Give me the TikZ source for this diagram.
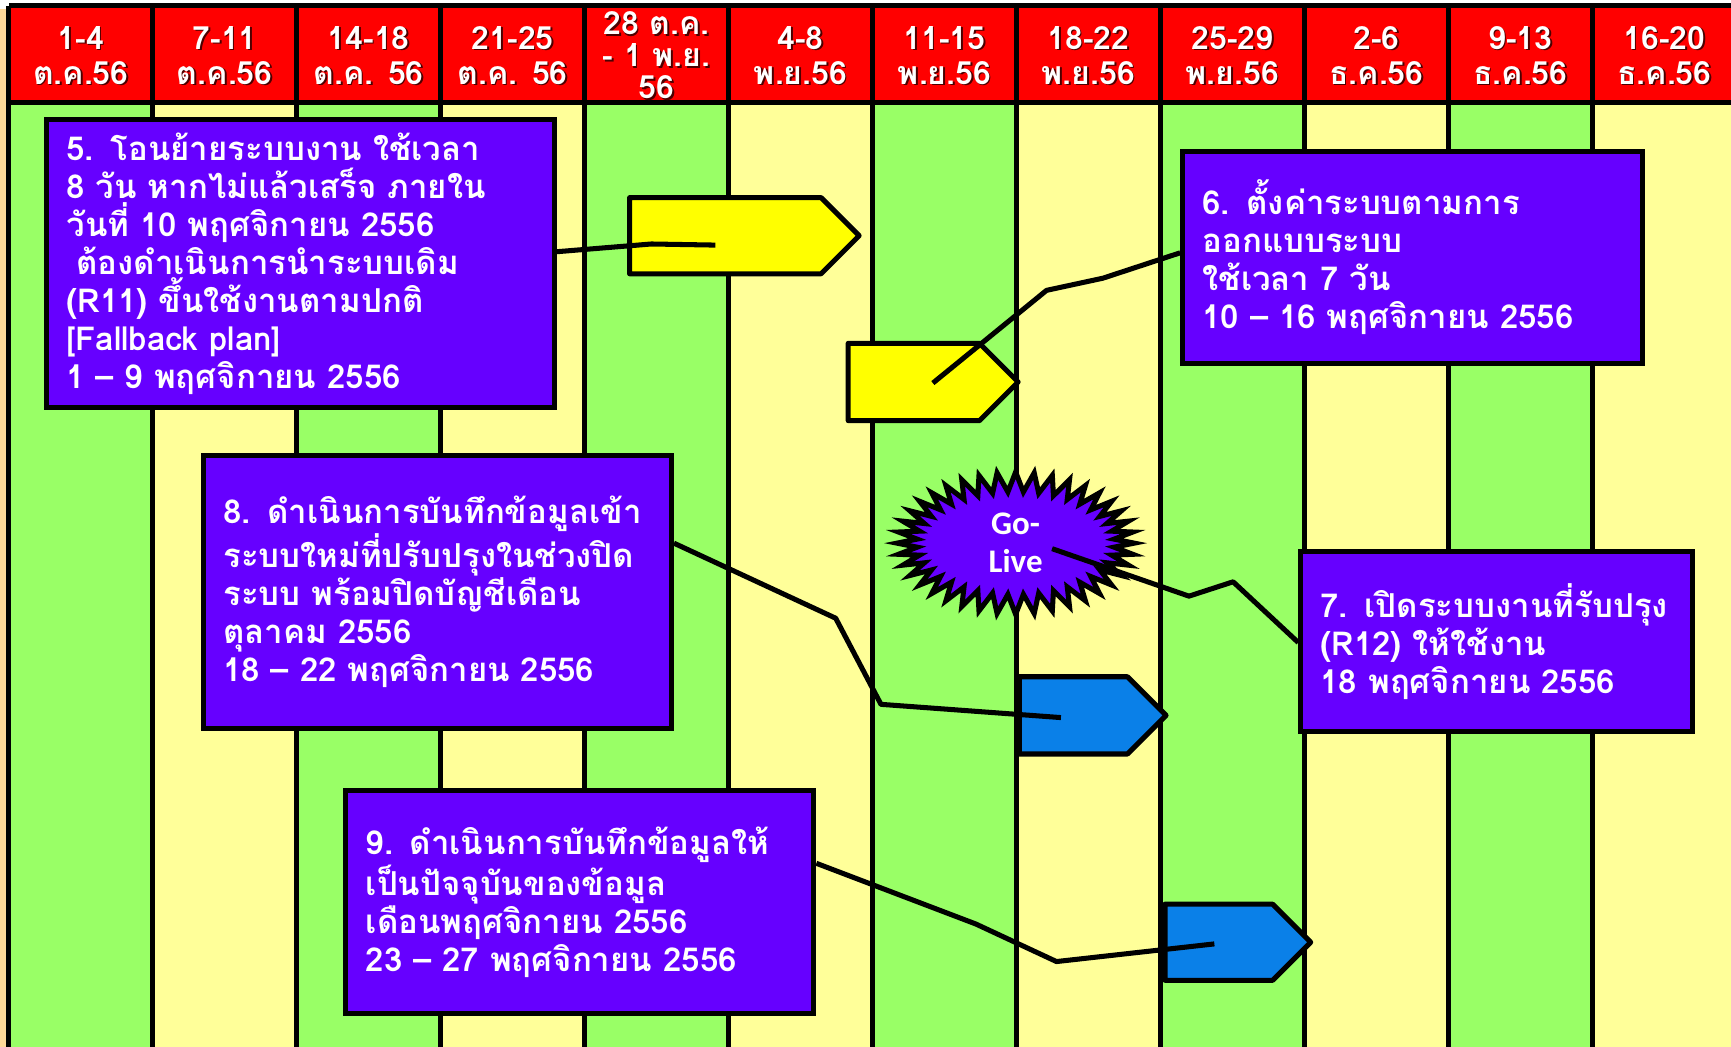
\documentclass[tikz,border=0pt]{standalone}
\usepackage{fontspec}
\newfontfamily\thaifont[Script=Thai]{Loma}
\newfontfamily\golivefont{Carlito}
\usetikzlibrary{shapes.symbols}
\definecolor{hdrred}{HTML}{FF0000}
\definecolor{colgreen}{HTML}{99FF66}
\definecolor{colyellow}{HTML}{FFFF99}
\definecolor{stripbg}{HTML}{FFD898}
\definecolor{taskpurple}{HTML}{6600FF}
\definecolor{baryellow}{HTML}{FFFF00}
\definecolor{barblue}{HTML}{0A80E8}
\tikzset{%
  grid/.style={line width=2.5pt},
  hdr/.style={
    text=white,
    align=center,
    font=\thaifont\bfseries\fontsize{16.5}{18}\selectfont
  },
  hdrshadow/.style={hdr, text=black!70!hdrred},
  task/.style={
    draw,
    line width=2.6pt,
    fill=taskpurple,
    text=white,
    align=left,
    anchor=north west,
    inner xsep=0.36cm,
    inner ysep=0pt,
    font=\thaifont\bfseries\fontsize{17}{19.6}\selectfont
  },
  bar/.style={
    signal,
    signal to=east,
    signal pointer angle=90,
    draw,
    line width=2.6pt,
    line join=round,
    inner sep=0pt,
    anchor=west
  },
  golive/.style={
    starburst,
    starburst points=40,
    starburst point height=0.36cm,
    random starburst=0,
    draw,
    line width=2.6pt,
    fill=taskpurple,
    text=white,
    align=center,
    minimum width=4.3cm,
    minimum height=2.3cm,
    font=\golivefont\bfseries\fontsize{17}{19.5}\selectfont
  },
  link/.style={line width=2.6pt, line join=round},
}

\begin{document}
\begin{tikzpicture}[x=0.02cm,y=-0.02cm]
    \useasboundingbox (0,0) rectangle (1568,948);
    \fill[white] (0,0) rectangle (1568,948);
    \fill[stripbg] (0,8) rectangle (8,948);
    % week columns
    \foreach \i in {0,2,...,10}
        \fill[colgreen] (8+130.4*\i,93) rectangle (138.4+130.4*\i,948);
    \foreach \i in {1,3,...,11}
        \fill[colyellow] (8+130.4*\i,93) rectangle (138.4+130.4*\i,948);
    \fill[hdrred] (8,5) rectangle (1574,93);
    \foreach \i in {0,...,12}
        \draw[grid] (8+130.4*\i,5) -- (8+130.4*\i,948);
    \draw[grid] (8,5) -- (1574,5);
    \draw[grid] (8,93) -- (1574,93);
    % week labels
    \foreach \lab [count=\i from 0] in {{1-4\\ต.ค.56},{7-11\\ต.ค.56},{14-18\\ต.ค. 56},{21-25\\ต.ค. 56},{28 ต.ค.\\[-1.5pt]- 1 พ.ย.\\[-1.5pt]56},{4-8\\พ.ย.56},{11-15\\พ.ย.56},{18-22\\พ.ย.56},{25-29\\พ.ย.56},{2-6\\ธ.ค.56},{9-13\\ธ.ค.56},{16-20\\ธ.ค.56}}{
        \node[hdrshadow] at (74.6+130.4*\i,51.5) {\lab};
        \node[hdr] (wk\i) at (73.2+130.4*\i,50) {\lab};
    }

    % tasks
    \node[task, text width=8.48cm, minimum height=5.22cm] (box5) at (40,106)
        {5. โอนย้ายระบบงาน ใช้เวลา\\8 วัน หากไม่แล้วเสร็จ ภายใน\\วันที่ 10 พฤศจิกายน 2556\\\hspace*{0.3em}ต้องดำเนินการนำระบบเดิม\\(R11) ขึ้นใช้งานตามปกติ\\{[}Fallback plan{]}\\1 – 9 พฤศจิกายน 2556};
    \node[task, text width=7.62cm, minimum height=3.84cm] (box6) at (1069,135)
        {6. ตั้งค่าระบบตามการ\\ออกแบบระบบ\\ใช้เวลา 7 วัน\\10 – 16 พฤศจิกายน 2556};
    \node[task, text width=7.76cm, minimum height=4.96cm] (box8) at (182,410)
        {8. ดำเนินการบันทึกข้อมูลเข้า\\ระบบใหม่ที่ปรับปรุงในช่วงปิด\\ระบบ พร้อมปิดบัญชีเดือน\\ตุลาคม 2556\\18 – 22 พฤศจิกายน 2556};
    \node[task, text width=6.38cm, minimum height=3.26cm] (box7) at (1176,497)
        {7. เปิดระบบงานที่รับปรุง\\(R12) ให้ใช้งาน\\18 พฤศจิกายน 2556};
    \node[task, text width=7.76cm, minimum height=4.04cm] (box9) at (311,714)
        {9. ดำเนินการบันทึกข้อมูลให้\\เป็นปัจจุบันของข้อมูล\\เดือนพฤศจิกายน 2556\\23 – 27 พฤศจิกายน 2556};

    % time bars
    \node[bar, fill=baryellow, minimum width=4.16cm, minimum height=1.38cm] (bar5) at (568,213.5) {};
    \node[bar, fill=baryellow, minimum width=3.08cm, minimum height=1.4cm] (bar6) at (766,346) {};
    \node[bar, fill=barblue, minimum width=2.66cm, minimum height=1.4cm] (bar8) at (921,648) {};
    \node[bar, fill=barblue, minimum width=2.64cm, minimum height=1.38cm] (bar9) at (1053,853.5) {};

    \node[golive] (golive) at (920,492) {Go-\\Live};

    \coordinate (bar5in) at (648,222);
    \coordinate (bar6in) at (845,347);
    \coordinate (bar8in) at (961,650);
    \coordinate (goin) at (953,497);
    \coordinate (bar9in) at (1100,855);

    \draw[link] (box5.east |- 0,228) -- (590,221) -- (bar5in);
    \draw[link] (box6.west |- 0,229) -- (999,252) -- (948,263) -- (bar6in);
    \draw[link] (box8.east |- 0,492) -- (757,560) -- (798,638) -- (bar8in);
    \draw[link] (goin) -- (1077,540) -- (1117,527) -- (box7.west |- 0,582);
    \draw[link] (box9.east |- 0,782) -- (884,837) -- (957,871) -- (bar9in);
\end{tikzpicture}
\end{document}
